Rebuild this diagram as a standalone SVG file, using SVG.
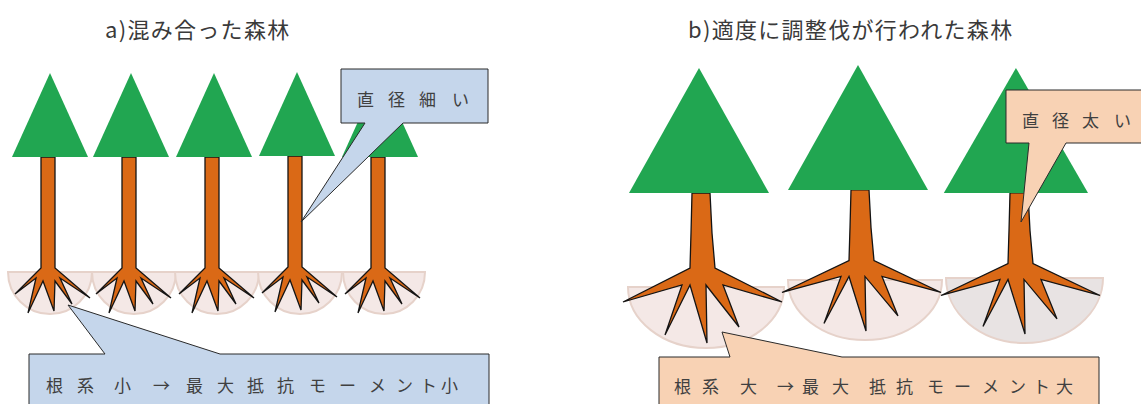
<svg xmlns="http://www.w3.org/2000/svg" xmlns:xlink="http://www.w3.org/1999/xlink" width="1141" height="404" viewBox="0 0 1141 404">
  <style>
    .title { font-family: "Noto Sans CJK JP", "Noto Sans", sans-serif; font-size: 22px; fill: #3a3a3a; letter-spacing: 1.3px; }
    .lbl { font-family: "Noto Sans CJK JP", "Noto Sans", sans-serif; font-size: 17px; fill: #404040; }
    .crown { fill: #21a651; }
    .wood { fill: #da6916; stroke: #141414; stroke-width: 1.3; stroke-linejoin: miter; }
    .soil { fill: #f4e8e6; stroke: #e6d2ca; stroke-width: 2; }
    .soil2 { fill: #e8e3e3; stroke: #e6d2ca; stroke-width: 2; }
    .call-blue { fill: #c5d6eb; stroke: #2a2a2a; stroke-width: 1; }
    .call-peach { fill: #f8d2b4; stroke: #2a2a2a; stroke-width: 1; }
  </style>
  <defs>
    <!-- trunk and root fan, origin at trunk centre / crown base -->
    <path id="trunkS" class="wood" d="M-7,0 L-7,111 L-33,137 L-12,121 L-20,156 L-5,124 L6,154 L7,124 L24,147 L12,121 L42,141 L7,111 L7,0 Z"/>
    <path id="trunkL" class="wood" d="M-9,0 L-10,40 L-11,75 L-78,109 L-19,92 L-36,142 L-11,92 L6,150 L5,92 L38,134 L22,92 L81,109 L14,75 L11,40 L9,0 Z"/>
    <polygon id="crownS" class="crown" points="2,-84 -36,0 40,0"/>
    <polygon id="crownL" class="crown" points="-2,-125 -72,0 68,0"/>
  </defs>

  <!-- titles -->
  <text class="title" x="105" y="38">a)混み合った森林</text>
  <text class="title" x="688" y="38">b)適度に調整伐が行われた森林</text>

  <!-- root zones -->
  <g id="soil">
    <path class="soil" d="M8,272 A42,42 0 0 0 92,272 Z"/>
    <path class="soil" d="M92,272 A42,42 0 0 0 176,272 Z"/>
    <path class="soil" d="M175,272 A42,42 0 0 0 259,272 Z"/>
    <path class="soil" d="M258,272 A42,42 0 0 0 342,272 Z"/>
    <path class="soil" d="M343,272 A41,42 0 0 0 425,272 Z"/>
    <path class="soil" d="M628,287 A78,61 0 0 0 784,287 Z"/>
    <path class="soil" d="M788,280 A77,60 0 0 0 942,280 Z"/>
    <path class="soil2" d="M946,278 A78.5,65 0 0 0 1103,278 Z"/>
  </g>

  <!-- dense stand -->
  <g id="treeA1" transform="translate(48,157)"><use xlink:href="#trunkS"/><use xlink:href="#crownS"/></g>
  <g id="treeA2" transform="translate(129,157)"><use xlink:href="#trunkS"/><use xlink:href="#crownS"/></g>
  <g id="treeA3" transform="translate(212,157)"><use xlink:href="#trunkS"/><use xlink:href="#crownS"/></g>
  <g id="treeA4" transform="translate(295,156)"><use xlink:href="#trunkS"/><use xlink:href="#crownS"/></g>
  <g id="treeA5" transform="translate(378,157)"><use xlink:href="#trunkS"/><use xlink:href="#crownS"/></g>

  <!-- thinned stand -->
  <g id="treeB1" transform="translate(701,193)"><use xlink:href="#trunkL"/><use xlink:href="#crownL"/></g>
  <g id="treeB2" transform="translate(860,190)"><use xlink:href="#trunkL" transform="scale(1,0.94)"/><use xlink:href="#crownL"/></g>
  <g id="treeB3" transform="translate(1019,193)"><use xlink:href="#trunkL" transform="scale(1,0.94)"/><use xlink:href="#crownL" transform="translate(-1,0) scale(1.03,1)"/></g>

  <!-- callouts -->
  <g id="connectors">
    <g id="calloutThin">
      <path class="call-blue" d="M341,69 H488 V123 H403 L301,222 L365,123 H341 Z"/>
      <text class="lbl" x="357 388 419 452" y="106">直径細い</text>
    </g>
    <g id="calloutRootSmall">
      <path class="call-blue" d="M29,354 H105 L68,305 L220,354 H489 V420 H29 Z"/>
      <text class="lbl" x="46 77 114 153 186 217 247 277 309 339 369 396 420 441" y="392">根系小→最大抵抗モーメント小</text>
    </g>
    <g id="calloutThick">
      <path class="call-peach" d="M1006,90 H1150 V143 H1066 L1021,222 L1029,143 H1006 Z"/>
      <text class="lbl" x="1022 1052 1082 1114" y="127">直径太い</text>
    </g>
    <g id="calloutRootLarge">
      <path class="call-peach" d="M659,357 H730 L722,332 L842,357 H1099 V420 H659 Z"/>
      <text class="lbl" x="674 702 740 777 802 832 869 896 927 954 982 1009 1033 1056" y="393">根系大→最大抵抗モーメント大</text>
    </g>
  </g>
</svg>
